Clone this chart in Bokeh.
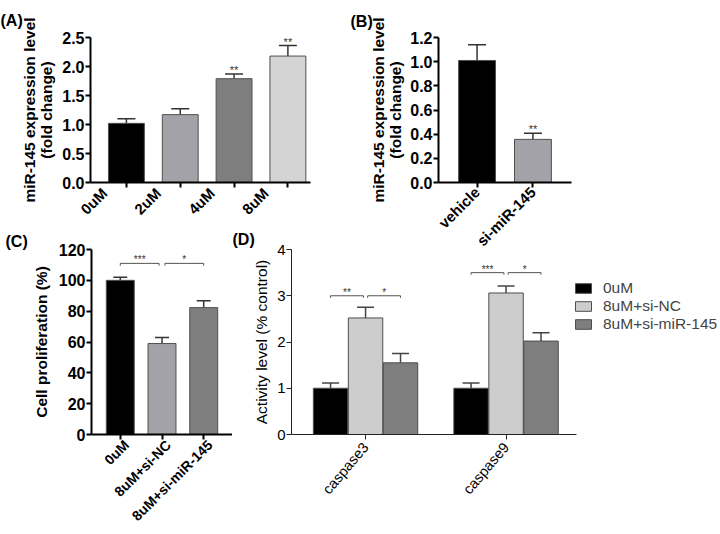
import math
from bokeh.plotting import figure
from bokeh.models import (Range1d, FixedTicker, Whisker, TeeHead, Legend, Title,
                          LegendItem, ColumnDataSource, PrintfTickFormatter)
from bokeh.layouts import row, column
from bokeh.embed import file_html
from bokeh.resources import INLINE
from bokeh.core.properties import value

FONT = "Liberation Sans"

# ---------------- data ----------------
# Panel A
a_labels = ["0uM", "2uM", "4uM", "8uM"]
a_means = [1.02, 1.17, 1.79, 2.18]
a_errs = [0.08, 0.10, 0.08, 0.18]
a_colors = ["#000000", "#a2a2a8", "#7e7e7e", "#d4d4d4"]
a_sig = ["", "", "**", "**"]
a_yticks = [0.0, 0.5, 1.0, 1.5, 2.0, 2.5]

# Panel B
b_labels = ["vehicle", "si-miR-145"]
b_means = [1.01, 0.357]
b_errs = [0.13, 0.05]
b_colors = ["#000000", "#a2a2a8"]
b_sig = ["", "**"]
b_yticks = [0.0, 0.2, 0.4, 0.6, 0.8, 1.0, 1.2]

# Panel C
c_labels = ["0uM", "8uM+si-NC", "8uM+si-miR-145"]
c_means = [100.0, 59.0, 82.3]
c_errs = [2.0, 4.0, 4.4]
c_colors = ["#000000", "#a2a2a8", "#7e7e7e"]
c_yticks = [0, 20, 40, 60, 80, 100, 120]
c_brackets = [(0, 1, "***"), (1, 2, "*")]
c_bracket_y = 111

# Panel D
d_groups = ["caspase3", "caspase9"]
d_series = ["0uM", "8uM+si-NC", "8uM+si-miR-145"]
d_means = [[1.0, 1.0], [2.52, 3.06], [1.55, 2.02]]
d_errs = [[0.115, 0.115], [0.23, 0.15], [0.20, 0.18]]
d_colors = ["#000000", "#cdcdcd", "#7e7e7e"]
d_yticks = [0, 1, 2, 3, 4]
d_brackets = [[(0, 1, "**"), (1, 2, "*")], [(0, 1, "***"), (1, 2, "*")]]
d_bracket_y = [3.0, 3.5]


def style_axes(p, bold, tick_size, label_size, xlab_size, line_w, color="#000000",
               angle=math.pi / 4, x_standoff=1):
    style = "bold" if bold else "normal"
    for ax in (p.xaxis, p.yaxis):
        ax.axis_line_width = line_w
        ax.axis_line_color = color
        ax.major_tick_line_width = line_w
        ax.major_tick_line_color = color
        ax.major_tick_in = 0
        ax.major_tick_out = 5
        ax.minor_tick_line_color = None
        ax.major_label_standoff = 1
        ax.major_label_text_font = FONT
        ax.major_label_text_font_style = style
        ax.major_label_text_color = "#000000"
        ax.axis_label_text_font = FONT
        ax.axis_label_text_font_style = style
        ax.axis_label_text_color = "#000000"
        ax.axis_label_text_line_height = 1.0
    p.xaxis.major_label_standoff = x_standoff
    p.yaxis.major_label_text_font_size = tick_size
    p.yaxis.axis_label_text_font_size = label_size
    p.xaxis.major_label_text_font_size = xlab_size
    p.xaxis.major_label_orientation = angle
    p.xgrid.visible = False
    p.ygrid.visible = False
    p.outline_line_color = None
    p.background_fill_color = None
    p.border_fill_color = None


def shift_labels(p, labels, shift, width):
    """Put the category labels at an offset from their (minor) tick marks."""
    n = len(labels)
    p.xaxis.ticker = FixedTicker(ticks=[i + shift for i in range(n)],
                                 minor_ticks=list(range(n)))
    p.xaxis.major_label_overrides = {i + shift: lab for i, lab in enumerate(labels)}
    p.xaxis.major_tick_line_color = None
    p.xaxis.minor_tick_line_color = "#000000"
    p.xaxis.minor_tick_line_width = width
    p.xaxis.minor_tick_in = 0
    p.xaxis.minor_tick_out = 5


def panel_title(p, text, offset, standoff):
    p.title = Title(text=text, align="left", offset=offset, standoff=standoff,
                    text_font=FONT, text_font_style="bold",
                    text_font_size="16px", text_color="#000000")


def stars(p, xs, ys, texts, size):
    p.text(x=xs, y=ys, text=texts, text_align="center",
           text_baseline="bottom", y_offset=2, text_font_size=size,
           text_color="#333333", text_font=value(FONT))


def bar_panel(labels, means, errs, colors, yticks, xr, w, h, borders, ylabel,
              fmt, cap, bar_w, tick_size, label_size, xlab_size, standoff,
              x_standoff=1):
    n = len(labels)
    xs = list(range(n))
    p = figure(width=w, height=h, x_range=Range1d(*xr),
               y_range=Range1d(yticks[0], yticks[-1]),
               output_backend="svg", toolbar_location=None,
               min_border_left=borders[0], min_border_right=borders[1],
               min_border_top=borders[2], min_border_bottom=borders[3])
    src = ColumnDataSource(dict(x=xs, top=means,
                                upper=[m + e for m, e in zip(means, errs)],
                                color=colors, label=labels))
    p.vbar(x="x", top="top", width=bar_w, fill_color="color",
           line_color="#505050", line_width=1, source=src)
    p.add_layout(Whisker(source=src, base="x", lower="top", upper="upper",
                         line_color="#333333", line_width=1.5, lower_head=None,
                         upper_head=TeeHead(size=cap, line_color="#333333",
                                            line_width=1.5)))
    p.yaxis.ticker = FixedTicker(ticks=yticks)
    p.yaxis.formatter = PrintfTickFormatter(format=fmt)
    p.xaxis.ticker = FixedTicker(ticks=xs)
    p.xaxis.major_label_overrides = {i: lab for i, lab in enumerate(labels)}
    p.yaxis.axis_label = ylabel
    p.yaxis.axis_label_standoff = standoff
    style_axes(p, True, tick_size, label_size, xlab_size, 2, x_standoff=x_standoff)
    return p, src


H1 = 262          # height of the top row canvases
ROW2_TOP = 227    # where the bottom row starts
H2 = 532 - ROW2_TOP

# ---------------- Panel A ----------------
pa, sa = bar_panel(a_labels, a_means, a_errs, a_colors, a_yticks,
                   (-0.667, 3.42), 345, H1, (90, 35, 36, H1 - 184),
                   "miR-145 expression level\n(fold change)", "%.1f", 18, 0.667,
                   "16px", "15.5px", "15px", 4, x_standoff=3)
shift_labels(pa, a_labels, -0.41, 2)
stars(pa, list(range(len(a_labels))),
      [m + e for m, e in zip(a_means, a_errs)], a_sig, "11px")
panel_title(pa, "(A)", -90, 18)

# ---------------- Panel B ----------------
pb, sb = bar_panel(b_labels, b_means, b_errs, b_colors, b_yticks,
                   (-0.69, 1.69), 375, H1, (93, 149, 33, H1 - 182),
                   "miR-145 expression level\n(fold change)", "%.1f", 18, 0.66,
                   "16px", "15.5px", "15px", 3, x_standoff=2)
stars(pb, list(range(len(b_labels))),
      [m + e for m, e in zip(b_means, b_errs)], b_sig, "11px")
panel_title(pb, "(B)", -88, 15)

# ---------------- Panel C ----------------
pc, sc = bar_panel(c_labels, c_means, c_errs, c_colors, c_yticks,
                   (-0.69, 2.69), 232, H2, (91, 0, 20, H2 - (439 - ROW2_TOP)),
                   "Cell proliferation (%)", "%d", 14, 0.67,
                   "16px", "15.5px", "14px", 6, x_standoff=3)
shift_labels(pc, c_labels, 0.15, 2)
g = 0.07
drop = 1.5
bx, by, sx, sy, st = [], [], [], [], []
for a, b, s in c_brackets:
    x0 = a + (g if a > 0 else 0)
    x1 = b - (g if b < len(c_labels) - 1 else 0)
    bx.append([x0, x0, x1, x1])
    by.append([c_bracket_y - drop, c_bracket_y, c_bracket_y, c_bracket_y - drop])
    sx.append((x0 + x1) / 2)
    sy.append(c_bracket_y)
    st.append(s)
pc.multi_line(xs=bx, ys=by, line_color="#555555", line_width=1)
stars(pc, sx, sy, st, "10px")
panel_title(pc, "(C)", -86, 0)

# ---------------- Panel D ----------------
off = 0.249
bw = 0.245
d_px_per_unit = 140.5
d_left = -0.527
d_axis_end = 1.502
d_frame_w = 720 - 291
pd_ = figure(width=720 - 232, height=H2,
             x_range=Range1d(d_left, d_left + d_frame_w / d_px_per_unit),
             y_range=Range1d(0, 4), output_backend="svg", toolbar_location=None,
             min_border_left=291 - 232, min_border_right=0, min_border_top=22,
             min_border_bottom=H2 - (439 - ROW2_TOP))
items = []
for k, name in enumerate(d_series):
    xk = [gi + (k - 1) * off for gi in range(len(d_groups))]
    src = ColumnDataSource(dict(x=xk, top=d_means[k],
                                upper=[m + e for m, e in zip(d_means[k], d_errs[k])]))
    r = pd_.vbar(x="x", top="top", width=bw, fill_color=d_colors[k],
                 line_color="#4d4d4d", line_width=1, source=src)
    pd_.add_layout(Whisker(source=src, base="x", lower="top", upper="upper",
                           line_color="#444444", line_width=1.5, lower_head=None,
                           upper_head=TeeHead(size=17, line_color="#444444",
                                              line_width=1.5)))
    items.append(LegendItem(label=name, renderers=[r]))

gd = 0.015
dd = 0.045
bx, by, sx, sy, st = [], [], [], [], []
for gi, brs in enumerate(d_brackets):
    yb = d_bracket_y[gi]
    for a, b, s in brs:
        x0 = gi + (a - 1) * off + (gd if a > 0 else 0)
        x1 = gi + (b - 1) * off - (gd if b < len(d_series) - 1 else 0)
        bx.append([x0, x0, x1, x1])
        by.append([yb - dd, yb, yb, yb - dd])
        sx.append((x0 + x1) / 2)
        sy.append(yb)
        st.append(s)
pd_.multi_line(xs=bx, ys=by, line_color="#555555", line_width=1)
stars(pd_, sx, sy, st, "10px")

pd_.yaxis.ticker = FixedTicker(ticks=d_yticks)
pd_.xaxis.ticker = FixedTicker(ticks=list(range(len(d_groups))))
pd_.xaxis.major_label_overrides = {i: lab for i, lab in enumerate(d_groups)}
pd_.xaxis.bounds = (d_left, d_axis_end)
pd_.yaxis.axis_label = "Activity level (% control)"
pd_.yaxis.axis_label_standoff = 4
style_axes(pd_, False, "15px", "15.5px", "14.5px", 1, "#222222", angle=0.87,
           x_standoff=5)

legend = Legend(items=items, location=(282, 101), border_line_color=None,
                background_fill_alpha=0, label_text_font=FONT,
                label_text_font_size="15.5px", glyph_width=20, glyph_height=12,
                label_standoff=10, spacing=0, padding=0, margin=0,
                label_height=17)
pd_.add_layout(legend)
panel_title(pd_, "(D)", -59, 3)

top = row(pa, pb)
bottom = row(pc, pd_, margin=(ROW2_TOP - H1, 0, 0, 0))
layout = column(top, bottom)

open("out.html", "w").write(file_html(layout, INLINE))
